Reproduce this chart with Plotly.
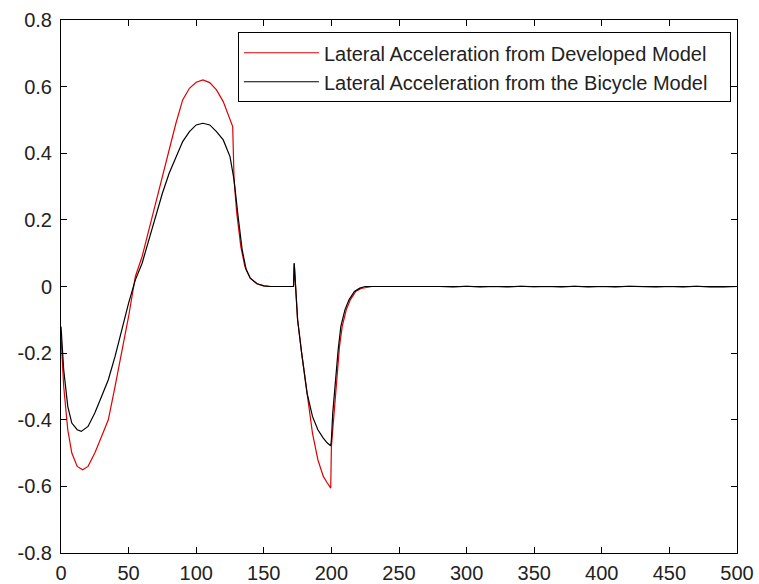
import plotly.graph_objects as go

# ---- data ----
red_name = "Lateral Acceleration from Developed Model"
black_name = "Lateral Acceleration from the Bicycle Model"

red_t = [0, 2, 5, 8, 12, 16, 20, 25, 30, 35, 40, 45, 50, 55, 60, 65, 70, 75, 80, 85,
         90, 95, 100, 105, 110, 115, 120, 125, 127, 128, 130, 133, 136, 140, 145, 150,
         155, 170, 172, 172.5, 173.5, 175, 178, 182, 186, 190, 194, 197, 199.5, 200,
         202, 204, 206, 208, 211, 214, 218, 222, 226, 230,
         280, 290, 300, 310, 320, 330, 340, 350, 360, 370, 380, 390, 400, 410, 420,
         430, 440, 450, 460, 470, 480, 490, 495, 500]
red_y = [-0.15, -0.30, -0.43, -0.50, -0.54, -0.55, -0.54, -0.50, -0.45, -0.40, -0.30,
         -0.20, -0.09, 0.03, 0.09, 0.17, 0.25, 0.33, 0.41, 0.49, 0.56, 0.595, 0.613, 0.62,
         0.612, 0.59, 0.555, 0.50, 0.48, 0.32, 0.22, 0.12, 0.06, 0.025, 0.008, 0.002,
         0.0, 0.0, 0.0, 0.07, 0.01, -0.10, -0.20, -0.32, -0.44, -0.52, -0.57, -0.59,
         -0.605, -0.48, -0.38, -0.27, -0.18, -0.12, -0.07, -0.04, -0.015, -0.006,
         -0.002, 0.0,
         0.0, -0.002, 0.001, -0.002, 0.0, -0.002, 0.001, -0.001, 0.0, -0.002, 0.001,
         -0.002, 0.0, -0.002, 0.001, -0.001, -0.002, 0.0, -0.002, 0.001, -0.002,
         -0.002, 0.0, 0.0]

black_t = [0, 2, 5, 8, 12, 15, 20, 25, 30, 35, 40, 45, 50, 55, 60, 65, 70, 75, 80, 85,
           90, 95, 100, 105, 110, 115, 120, 125, 128, 131, 134, 137, 140, 145, 150, 155,
           172, 172.5, 173.5, 175, 178, 182, 186, 190, 194, 197, 199.5, 200, 201, 203,
           205, 207, 210, 213, 217, 221, 225, 500]
black_y = [-0.12, -0.25, -0.36, -0.41, -0.43, -0.435, -0.42, -0.38, -0.33, -0.28,
           -0.21, -0.13, -0.05, 0.02, 0.07, 0.14, 0.21, 0.28, 0.34, 0.39, 0.435, 0.465,
           0.485, 0.49, 0.485, 0.465, 0.44, 0.39, 0.32, 0.21, 0.11, 0.05, 0.025, 0.008,
           0.002, 0.0, 0.0, 0.07, 0.01, -0.10, -0.20, -0.32, -0.39, -0.43, -0.455,
           -0.47, -0.478, -0.46, -0.38, -0.28, -0.19, -0.12, -0.07, -0.04, -0.015,
           -0.005, 0.0, 0.0]

x_ticks = [0, 50, 100, 150, 200, 250, 300, 350, 400, 450, 500]
y_ticks = [-0.8, -0.6, -0.4, -0.2, 0, 0.2, 0.4, 0.6, 0.8]
y_ticktext = ["-0.8", "-0.6", "-0.4", "-0.2", "0", "0.2", "0.4", "0.6", "0.8"]

FONT = "Liberation Sans, Arial, sans-serif"
FS = 20
PAD = "\u00a0\u00a0\u00a0"  # right padding inside the legend box

fig = go.Figure()
fig.add_trace(go.Scatter(x=red_t, y=red_y, mode="lines", name=red_name + PAD,
                         line=dict(color="#e00000", width=1.2)))
fig.add_trace(go.Scatter(x=black_t, y=black_y, mode="lines", name=black_name + PAD,
                         line=dict(color="black", width=1.2)))

axis_common = dict(showline=True, linecolor="black", linewidth=1, mirror="ticks",
                   ticks="inside", ticklen=6, tickcolor="black", showgrid=False,
                   zeroline=False, automargin=False,
                   tickfont=dict(family=FONT, size=FS, color="#222"))

fig.update_xaxes(range=[0, 500], tickvals=x_ticks, ticklabelstandoff=2, **axis_common)
fig.update_yaxes(range=[-0.8, 0.8], tickvals=y_ticks, ticktext=y_ticktext,
                 ticklabelstandoff=4, **axis_common)

fig.update_layout(
    width=759, height=584,
    margin=dict(l=61, r=22, t=20, b=31),
    plot_bgcolor="white", paper_bgcolor="white",
    font=dict(family=FONT, size=FS, color="#222"),
    legend=dict(x=0.991, y=0.977, xanchor="right", yanchor="top",
                bordercolor="black", borderwidth=1, bgcolor="white",
                itemwidth=75, tracegroupgap=0,
                font=dict(family=FONT, size=FS, color="#222")),
)

fig.write_html("out.html")
